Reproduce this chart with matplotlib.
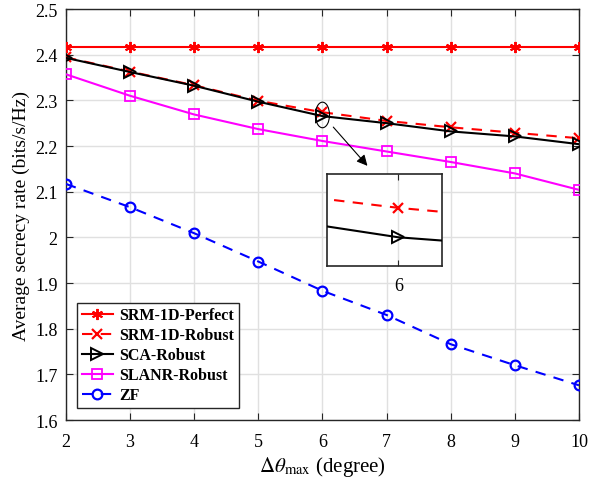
import matplotlib
matplotlib.use('Agg')
import matplotlib.pyplot as plt
from matplotlib.patches import Ellipse

plt.rcParams['font.family'] = ['Liberation Serif', 'DejaVu Serif']
plt.rcParams['mathtext.fontset'] = 'stix'

# data
theta = [2, 3, 4, 5, 6, 7, 8, 9, 10]
srm_perfect = [2.417, 2.417, 2.417, 2.417, 2.417, 2.417, 2.417, 2.417, 2.417]
srm_robust = [2.394, 2.363, 2.333, 2.299, 2.274, 2.255, 2.241, 2.229, 2.217]
sca_robust = [2.393, 2.362, 2.332, 2.297, 2.2655, 2.250, 2.232, 2.221, 2.204]
slanr_robust = [2.357, 2.310, 2.269, 2.237, 2.211, 2.188, 2.165, 2.140, 2.104]
zf = [2.117, 2.066, 2.009, 1.947, 1.883, 1.830, 1.766, 1.720, 1.676]

labels = ['SRM-1D-Perfect', 'SRM-1D-Robust', 'SCA-Robust', 'SLANR-Robust', 'ZF']
xticks = [2, 3, 4, 5, 6, 7, 8, 9, 10]
yticks = [1.6, 1.7, 1.8, 1.9, 2.0, 2.1, 2.2, 2.3, 2.4, 2.5]
ytick_labels = ['1.6', '1.7', '1.8', '1.9', '2', '2.1', '2.2', '2.3', '2.4', '2.5']


def draw_robust(ax, with_labels=True):
    ax.plot(theta, srm_robust, color='r', ls=(0, (5, 4)), lw=1.5, marker='x',
            ms=6.5, mew=1.6, label=labels[1] if with_labels else None, zorder=3)
    ax.plot(theta, sca_robust, color='k', ls='-', lw=1.5, marker='>', ms=8,
            mfc='none', mew=1.4, label=labels[2] if with_labels else None, zorder=3)


fig = plt.figure(figsize=(6.05, 4.81), dpi=100)
ax = fig.add_axes([0.109, 0.1247, 0.848, 0.8545])

ax.plot(theta, srm_perfect, color='r', ls='-', lw=1.5, marker=(6, 2, 0), ms=8,
        mew=1.4, label=labels[0], zorder=3)
draw_robust(ax)
ax.plot(theta, slanr_robust, color='magenta', ls='-', lw=1.5, marker='s', ms=7,
        mfc='none', mew=1.3, label=labels[3], zorder=3)
ax.plot(theta, zf, color='b', ls=(0, (5, 4)), lw=1.5, marker='o', ms=7,
        mfc='none', mew=1.6, label=labels[4], zorder=3)

ax.set_xlim(2, 10)
ax.set_ylim(1.6, 2.5)
ax.set_xticks(xticks)
ax.set_yticks(yticks)
ax.set_yticklabels(ytick_labels)
ax.tick_params(direction='in', top=True, right=True, labelsize=13, length=5,
               color='#262626')
ax.tick_params(axis='x', pad=9)
ax.tick_params(axis='y', pad=6)
ax.grid(True, color='#e0e0e0', lw=1.0)
ax.set_axisbelow(True)
for s in ax.spines.values():
    s.set_color('#262626')
    s.set_linewidth(1.0)

ax.set_xlabel(r'$\Delta\theta_{\rm max}$ (degree)', fontsize=15, labelpad=3)
ax.set_ylabel('Average secrecy rate (bits/s/Hz)', fontsize=14, labelpad=4)

leg = ax.legend(loc='lower left', bbox_to_anchor=(0.021, 0.029), borderaxespad=0,
                fancybox=False, edgecolor='#262626', framealpha=1,
                handlelength=2.0, borderpad=0.3, labelspacing=0.25,
                handletextpad=0.35, prop={'weight': 'bold', 'size': 11.5})
leg.get_frame().set_linewidth(1.0)

# highlight around x = 6 and arrow to the zoomed view
ax.add_patch(Ellipse((6, 2.268), 0.22, 0.056, fill=False, ec='k', lw=0.8, zorder=4))
ax.annotate('', xy=(6.73, 2.152), xytext=(6.14, 2.246),
            arrowprops=dict(arrowstyle='-|>', color='k', lw=0.8, mutation_scale=16))

# zoomed inset
axin = ax.inset_axes([0.508, 0.3755, 0.225, 0.2225])
draw_robust(axin, with_labels=False)
axin.set_xlim(5.9, 6.061)
axin.set_ylim(2.2573, 2.2837)
axin.set_xticks([6])
axin.set_yticks([])
axin.tick_params(direction='in', top=True, labelsize=13, length=4,
                 color='#262626', pad=8)
axin.grid(True, color='#e0e0e0', lw=1.0)
axin.set_axisbelow(True)
for s in axin.spines.values():
    s.set_color('#262626')
    s.set_linewidth(1.2)

fig.savefig('out.png', dpi=100)
